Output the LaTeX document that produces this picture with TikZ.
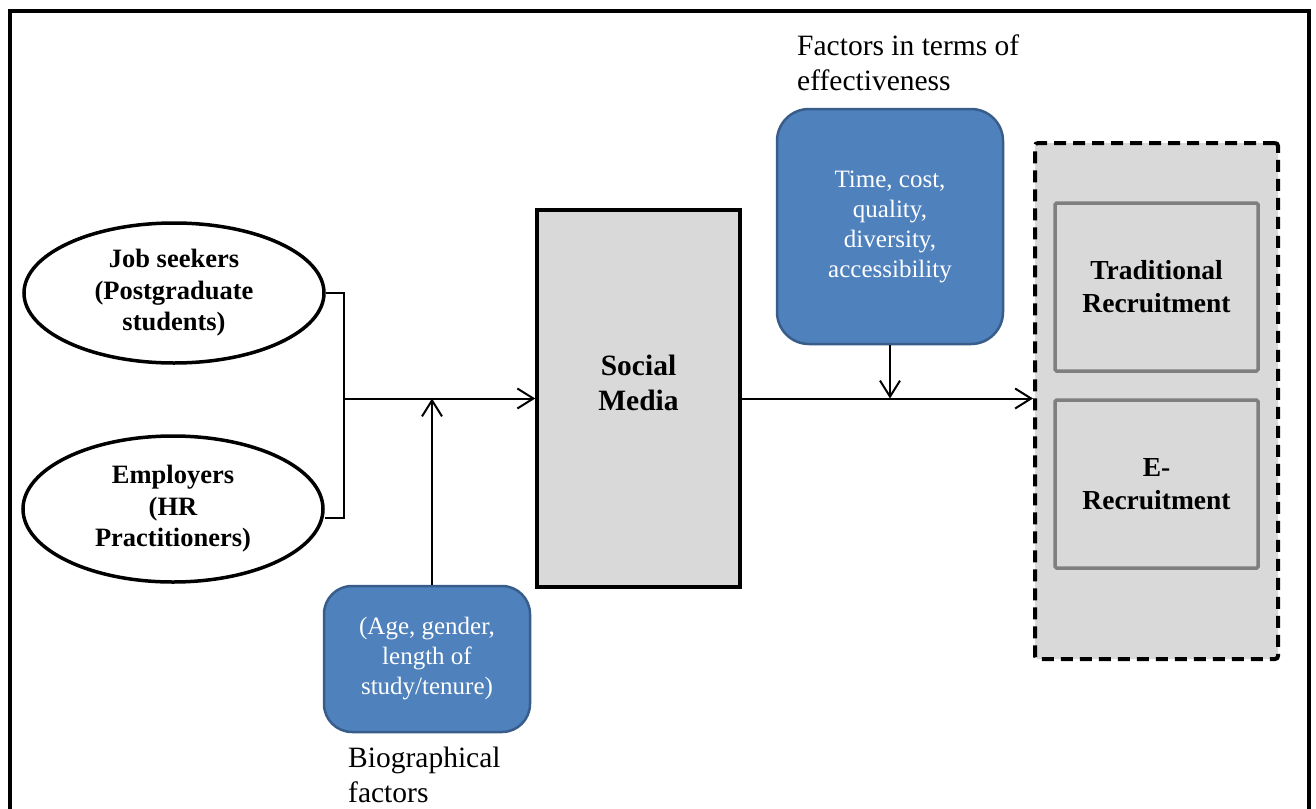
\documentclass[tikz,border=0pt]{standalone}
\usepackage{fontspec}
\setmainfont{Liberation Serif}
\usetikzlibrary{shapes.geometric,arrows.meta,calc}
\definecolor{boxblue}{HTML}{4F81BD}
\definecolor{boxblueline}{HTML}{385D8A}
\definecolor{lightgray}{HTML}{D9D9D9}
\definecolor{midgray}{HTML}{7F7F7F}
\tikzset{
  actor/.style={ellipse, draw=black, line width=3.5pt, fill=white, minimum width=300pt, inner sep=0pt, align=center, font=\fontsize{26.5}{31.5}\selectfont\bfseries},
  graybox/.style={rectangle, draw=black, line width=3.5pt, fill=lightgray, inner sep=0pt},
  bluebox/.style={rectangle, draw=boxblueline, line width=2.5pt, fill=boxblue, text=white, inner sep=0pt, align=center, font=\fontsize{25}{30}\selectfont},
  dashbox/.style={rectangle, draw=black, line width=4pt, dash pattern=on 12pt off 7pt, fill=lightgray, rounded corners=3pt, inner sep=0pt},
  recbox/.style={rectangle, draw=midgray, line width=3.5pt, fill=lightgray, rounded corners=1.5pt, inner sep=0pt, minimum width=203pt, minimum height=168pt, align=center, font=\fontsize{27.5}{33}\selectfont\bfseries},
  conn/.style={draw=black, line width=2pt},
  arr/.style={conn, -{Straight Barb[length=16pt, width=20pt, line width=2pt]}},
  caption/.style={inner sep=0pt, align=left, anchor=north west, font=\fontsize{29.5}{35}\selectfont}
}
\begin{document}
\begin{tikzpicture}[x=1pt, y=-1pt]
\useasboundingbox (0,0) rectangle (1316,808);
\fill[white] (0,0) rectangle (1316,808);
\draw[line width=4pt] (10,11) rectangle (1309,840);

% left actors
\node[actor, minimum height=140pt] (js) at (174,293) {Job seekers\\(Postgraduate\\students)};
\node[actor, minimum height=146pt] (emp) at (173,509) {Employers\\(HR\\Practitioners)};

% social media
\node[graybox, minimum width=203pt, minimum height=377pt] (social) at (638.5,398.5) {};
\node[inner sep=0pt, align=center, font=\fontsize{29.5}{35}\selectfont\bfseries] (socialtext) at (638.5,383) {Social\\Media};

% blue factor boxes
\node[bluebox, rounded corners=32pt, minimum width=226pt, minimum height=235pt] (time) at (890,226.5) {Time, cost,\\quality,\\diversity,\\accessibility};
\node[bluebox, rounded corners=28pt, minimum width=206pt, minimum height=146pt] (bio) at (427,659) {(Age, gender,\\length of\\study/tenure)};

% captions
\node[caption] (efflabel) at (797,35) {Factors in terms of\\effectiveness};
\node[caption] (biolabel) at (348,747) {Biographical\\factors};

% recruitment group
\node[dashbox, minimum width=243pt, minimum height=516pt] (dash) at (1156.5,401) {};
\node[recbox] (trad) at (1156.5,287) {Traditional\\Recruitment};
\node[recbox] (erec) at (1156.5,484) {E-\\Recruitment};

% connectors
\coordinate (j) at (344,398.5);
\draw[conn] (js.east) -- (js.east -| j) -- ([yshift=-9pt]emp.east -| j) -- ([yshift=-9pt]emp.east);
\draw[arr] (j) -- (social.west);
\draw[arr] ([xshift=5pt]bio.north) -- ([xshift=5pt]bio.north |- social.west);
\draw[arr] (social.east) -- (social.east -| dash.west);
\draw[arr] (time.south) -- (time.south |- social.east);
\end{tikzpicture}
\end{document}
